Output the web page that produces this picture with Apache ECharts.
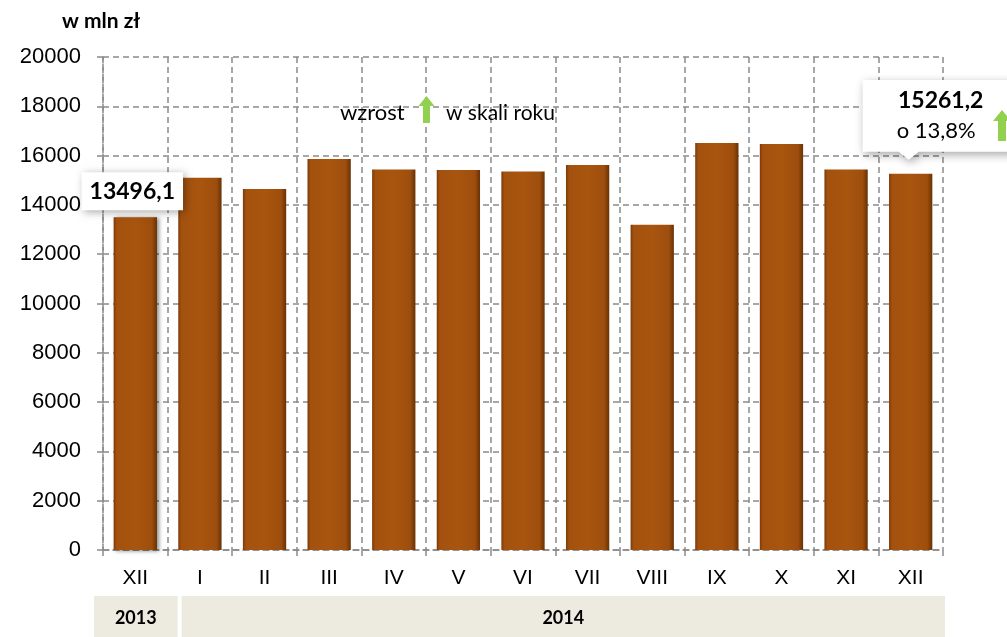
<!DOCTYPE html>
<html><head><meta charset="utf-8">
<script src="https://cdn.jsdelivr.net/npm/echarts@6/dist/echarts.min.js"></script>
<style>html,body{margin:0;padding:0;background:#fff;overflow:hidden}#c{width:1007px;height:637px}</style>
</head><body><div id="c"></div>
<script>
const categories = ['XII','I','II','III','IV','V','VI','VII','VIII','IX','X','XI','XII'];
const values = [13496.1,15100,14650,15860,15440,15420,15350,15620,13190,16510,16470,15440,15261.2];
const yearLabels = ['2013','2014'];
const yearSpans = [[0,0],[1,12]];
const yMin = 0, yMax = 20000, yInterval = 2000;
const unitLabel = 'w mln zł';
const growthText = ['wzrost','w skali roku'];
const lastChange = 'o 13,8%';

const fmt = v => String(v).replace('.', ',');
const chart = echarts.init(document.getElementById('c'));
const gridCol = '#8a8a8a';
const dash = [6,4];
const last = values.length - 1;

const barColor = new echarts.graphic.LinearGradient(0,0,1,0,[
  {offset:0,color:'#7a3b09'},{offset:0.07,color:'#a3510e'},
  {offset:0.5,color:'#a8550f'},{offset:0.88,color:'#9e4e0d'},{offset:1,color:'#683205'}]);

chart.setOption({
  animation:false,
  grid:{left:103,right:64,top:57,bottom:87},
  xAxis:{type:'category',data:categories,
    axisLine:{lineStyle:{color:gridCol,width:1.5,type:dash}},
    axisTick:{show:true,length:6,lineStyle:{color:gridCol,width:1.5}},
    splitLine:{show:true,lineStyle:{color:gridCol,width:1.5,type:dash}},
    axisLabel:{color:'#000',fontFamily:'"Liberation Sans", Arial',fontSize:21,margin:18}},
  yAxis:{type:'value',min:yMin,max:yMax,interval:yInterval,
    axisLine:{show:true,lineStyle:{color:gridCol,width:1.5,type:dash}},
    axisTick:{show:true,length:6,lineStyle:{color:gridCol,width:1.5}},
    splitLine:{show:true,lineStyle:{color:gridCol,width:1.5,type:dash}},
    axisLabel:{color:'#000',fontFamily:'"Liberation Sans", Arial',fontSize:22,margin:22,formatter:v=>String(v)}},
  series:[{type:'bar',data:values.map((v,i)=>{
      const d={value:v};
      if(i===0){d.label={show:true,position:'top',distance:7,offset:[-3,0],
        formatter:p=>fmt(p.value),fontFamily:'Lato',fontWeight:'bold',fontSize:23,color:'#000',
        backgroundColor:'#fff',padding:[8,8,7,8],shadowBlur:8,shadowColor:'rgba(0,0,0,0.35)',shadowOffsetX:2,shadowOffsetY:2};}
      return d;}),
    barWidth:'67%',
    itemStyle:{color:barColor,shadowBlur:4,shadowColor:'rgba(0,0,0,0.45)',shadowOffsetX:2,shadowOffsetY:1}
  }]
});

function build(){
  const cx = i => chart.convertToPixel({xAxisIndex:0}, i);
  const half = (cx(1)-cx(0))/2;
  const g = [];
  g.push({type:'text',left:62,top:11,style:{text:unitLabel,fontFamily:'Lato',fontWeight:'bold',fontSize:21,fill:'#000'}});
  // year band
  yearSpans.forEach((s,k)=>{
    const x1 = cx(s[0])-half + (k===0?-9:14);
    const x2 = cx(s[1])+half + (k===0?10:2);
    g.push({type:'rect',shape:{x:x1,y:596,width:x2-x1,height:41},style:{fill:'#edeae0'}});
    g.push({type:'text',x:(x1+x2)/2,y:618,style:{text:yearLabels[k],fontFamily:'Lato',fontWeight:'bold',fontSize:18,fill:'#000',align:'center',verticalAlign:'middle'}});
  });
  // growth legend text
  g.push({type:'text',x:340,y:113,style:{text:growthText[0],fontFamily:'Lato',fontSize:22,fill:'#000',verticalAlign:'middle'}});
  g.push({type:'polygon',shape:{points:[[426.5,96],[434.5,106],[430,106],[430,123],[423,123],[423,106],[418.5,106]]},style:{fill:'#92d050'}});
  g.push({type:'text',x:446,y:113,style:{text:growthText[1],fontFamily:'Lato',fontSize:21,fill:'#000',verticalAlign:'middle'}});
  // last callout
  const lx = cx(last);
  const ly = chart.convertToPixel({yAxisIndex:0}, values[last]);
  const bx = lx-48, by = 80, bw = 170, bh = ly-22-by;
  g.push({type:'polygon',shape:{points:[[bx,by],[bx+bw,by],[bx+bw,by+bh],[lx+8,by+bh],[lx-2,by+bh+8],[lx-12,by+bh],[bx,by+bh]]},
    style:{fill:'#fff',shadowBlur:10,shadowColor:'rgba(0,0,0,0.35)',shadowOffsetX:2,shadowOffsetY:3}});
  g.push({type:'text',x:lx+30,y:101,style:{text:fmt(values[last]),fontFamily:'Lato',fontWeight:'bold',fontSize:23,fill:'#000',align:'center',verticalAlign:'middle'}});
  g.push({type:'text',x:lx-14,y:131,style:{text:lastChange,fontFamily:'Lato',fontSize:22,fill:'#000',verticalAlign:'middle'}});
  g.push({type:'polygon',shape:{points:[[1002,110],[1011,121],[1006,121],[1006,141],[998,141],[998,121],[993,121]]},style:{fill:'#92d050'}});
  chart.setOption({graphic:g});
}
build();
</script></body></html>
